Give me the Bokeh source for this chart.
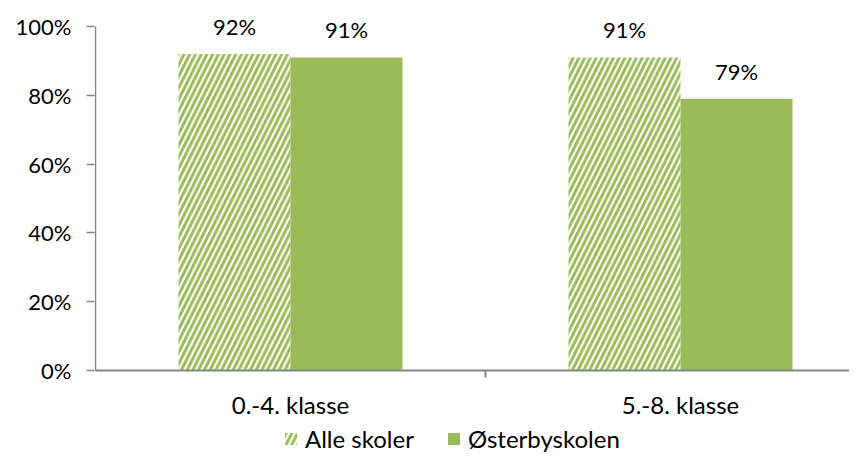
from bokeh.plotting import figure
from bokeh.models import ColumnDataSource, FixedTicker, NumeralTickFormatter, Legend, LegendItem, Range1d
from bokeh.core.properties import value
from bokeh.embed import file_html
from bokeh.resources import INLINE

categories = ["0.-4. klasse", "5.-8. klasse"]
alle_skoler = [0.92, 0.91]
osterbyskolen = [0.91, 0.79]
series_names = ["Alle skoler", "Østerbyskolen"]
y_ticks = [0, 0.2, 0.4, 0.6, 0.8, 1.0]

GREEN = "#9BBB59"
AXIS = "#868686"
FONT = "Lato"

W, H = 849, 453
PX = 390.0  # pixels per category
PY = 344.0  # pixels per unit on y
Y0 = 370    # pixel row of the 0% baseline
p = figure(width=W, height=H, output_backend="svg", toolbar_location=None,
           x_range=Range1d(-1 / PX, (W - 95) / PX),
           y_range=Range1d(-(H - Y0) / PY, Y0 / PY),
           min_border_left=94, min_border_right=0, min_border_top=0, min_border_bottom=0)
p.outline_line_color = None
p.grid.grid_line_color = None
p.background_fill_color = "white"
p.border_fill_color = "white"
p.xaxis.visible = False

n = len(categories)
xc = [i + 0.5 for i in range(n)]
bw = 112 / PX
src = ColumnDataSource(dict(
    x1=[x - bw / 2 for x in xc], x2=[x + bw / 2 for x in xc],
    a=alle_skoler, o=osterbyskolen,
    la=[f"{round(v*100)}%" for v in alle_skoler],
    lo=[f"{round(v*100)}%" for v in osterbyskolen],
))

r1 = p.vbar(x="x1", top="a", width=bw, source=src, fill_color="white", line_color=None,
            hatch_pattern="/", hatch_color=GREEN, hatch_scale=11.5, hatch_weight=3)
r2 = p.vbar(x="x2", top="o", width=bw, source=src, fill_color=GREEN, line_color=None)

for col, xcol, ycol in (("la", "x1", "a"), ("lo", "x2", "o")):
    p.text(x=xcol, y=ycol, text=col, source=src, text_align="center", text_baseline="bottom",
           y_offset=-14, text_font=value(FONT), text_font_size="22px", text_color="#000000")

# y axis line from 0% to 100%
p.segment(x0=[0], y0=[y_ticks[0]], x1=[0], y1=[y_ticks[-1]], line_color=AXIS, line_width=1.5)
# x axis line along 0%, with a tick between the categories
p.segment(x0=[0], y0=[0], x1=[(W - 95) / PX], y1=[0], line_color=AXIS, line_width=2)
p.segment(x0=[float(i) for i in range(1, n)], y0=[0] * (n - 1),
          x1=[float(i) for i in range(1, n)], y1=[-7 / PY] * (n - 1), line_color=AXIS, line_width=2)
# category labels
p.text(x=xc, y=[0] * n, text=categories, text_align="center", text_baseline="middle",
       y_offset=34, text_font=value(FONT), text_font_size="24px", text_color="#000000")

ya = p.yaxis[0]
ya.ticker = FixedTicker(ticks=y_ticks)
ya.formatter = NumeralTickFormatter(format="0%")
ya.minor_tick_line_color = None
ya.major_tick_out = 8
ya.major_tick_in = 0
ya.major_tick_line_color = AXIS
ya.major_tick_line_width = 1.5
ya.axis_line_color = None
ya.major_label_text_font = FONT
ya.major_label_text_font_size = "22px"
ya.major_label_text_color = "#000000"
ya.major_label_standoff = 15

legend = Legend(items=[LegendItem(label=series_names[0], renderers=[r1]),
                       LegendItem(label=series_names[1], renderers=[r2])],
                orientation="horizontal", location=(189, 0), padding=0, margin=0,
                label_text_font=FONT, label_text_font_size="24px", label_text_color="#000000",
                glyph_width=15, glyph_height=15, spacing=32, label_standoff=7,
                border_line_color=None, background_fill_alpha=0)
p.add_layout(legend, "center")

open("out.html", "w").write(file_html(p, INLINE))
